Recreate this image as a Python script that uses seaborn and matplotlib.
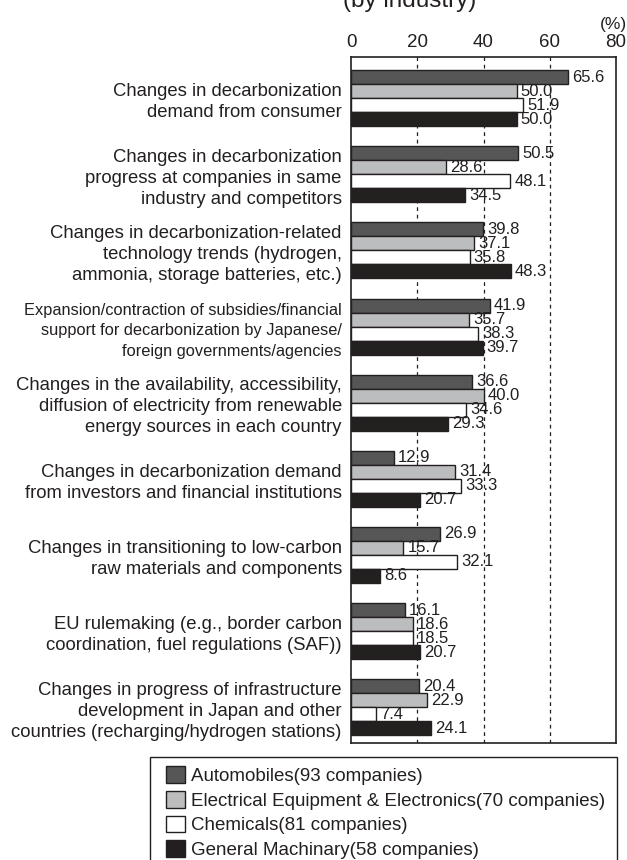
import matplotlib
matplotlib.use("Agg")
import matplotlib.pyplot as plt
from matplotlib.patches import Patch, Rectangle
import seaborn as sns
import pandas as pd

factors = [
    "Changes in decarbonization\ndemand from consumer",
    "Changes in decarbonization\nprogress at companies in same\nindustry and competitors",
    "Changes in decarbonization-related\ntechnology trends (hydrogen,\nammonia, storage batteries, etc.)",
    "Expansion/contraction of subsidies/financial\nsupport for decarbonization by Japanese/\nforeign governments/agencies",
    "Changes in the availability, accessibility,\ndiffusion of electricity from renewable\nenergy sources in each country",
    "Changes in decarbonization demand\nfrom investors and financial institutions",
    "Changes in transitioning to low-carbon\nraw materials and components",
    "EU rulemaking (e.g., border carbon\ncoordination, fuel regulations (SAF))",
    "Changes in progress of infrastructure\ndevelopment in Japan and other\ncountries (recharging/hydrogen stations)",
]
industries = [
    "Automobiles(93 companies)",
    "Electrical Equipment & Electronics(70 companies)",
    "Chemicals(81 companies)",
    "General Machinary(58 companies)",
]
automobiles = [65.6, 50.5, 39.8, 41.9, 36.6, 12.9, 26.9, 16.1, 20.4]
electrical = [50.0, 28.6, 37.1, 35.7, 40.0, 31.4, 15.7, 18.6, 22.9]
chemicals = [51.9, 48.1, 35.8, 38.3, 34.6, 33.3, 32.1, 18.5, 7.4]
machinery = [50.0, 34.5, 48.3, 39.7, 29.3, 20.7, 8.6, 20.7, 24.1]
colors = ["#565656", "#bcbdbf", "#ffffff", "#231f20"]
xticks = [0, 20, 40, 60, 80]

series = [automobiles, electrical, chemicals, machinery]
rows = []
for ind, vals in zip(industries, series):
    for f, v in zip(factors, vals):
        rows.append({"factor": f, "industry": ind, "value": v})
df = pd.DataFrame(rows)

sns.set_style("white")
plt.rcParams["font.family"] = ["Liberation Sans", "DejaVu Sans"]

fig = plt.figure(figsize=(6.27, 8.60), dpi=100)
ax = fig.add_axes([351.5 / 627, 1 - 743 / 860, 264 / 627, (743 - 57) / 860])

sns.barplot(data=df, x="value", y="factor", hue="industry", orient="h",
            order=factors, hue_order=industries, palette=colors,
            width=0.735, edgecolor="#231f20", linewidth=1.0, legend=False,
            ax=ax, errorbar=None)

ax.set_xlim(0, 80)
ax.set_ylim(8.47, -0.54)
ax.set_xlabel("")
ax.set_ylabel("")
ax.xaxis.tick_top()
ax.set_xticks(xticks)
ax.set_xticklabels([str(t) for t in xticks], fontsize=13.5)
ax.tick_params(axis="x", length=0, pad=4)
ax.tick_params(axis="y", length=0, pad=7, labelsize=13.3)
for i, lab in enumerate(ax.get_yticklabels()):
    lab.set_linespacing(1.32)
    lab.set_color("#231f20")
    if i == 3:
        lab.set_fontsize(11.8)
        lab.set_linespacing(1.45)
for lab in ax.get_xticklabels():
    lab.set_color("#231f20")
for v in [20, 40, 60]:
    ax.axvline(v, color="#231f20", linestyle=(0, (3, 3)), linewidth=0.9, zorder=0)
for s in ax.spines.values():
    s.set_visible(True)
    s.set_color("#231f20")
    s.set_linewidth(1.2)

for cont in ax.containers:
    ax.bar_label(cont, fmt="%.1f", padding=3, fontsize=12, color="#231f20")

fig.text(613 / 627, 1 - 25 / 860, "(%)", ha="center", va="center", fontsize=12.5,
         color="#231f20")
fig.text(410 / 627, 1 - 7 / 860, "(by industry)", ha="center", va="baseline",
         fontsize=17.5, color="#231f20")

# legend box (clipped at bottom as in the reference)
fig.patches.append(Rectangle((150 / 627, -0.05), (617 - 150) / 627, 1 - 757 / 860 + 0.05,
                             transform=fig.transFigure, fill=False,
                             edgecolor="#231f20", linewidth=1.0))
handles = [Patch(facecolor=c, edgecolor="#231f20", linewidth=1.0) for c in colors]
leg = fig.legend(handles, industries, loc="upper left",
                 bbox_to_anchor=(166 / 627, 1 - 766 / 860), frameon=False,
                 fontsize=13.5, handlelength=1.0, handleheight=1.0,
                 handletextpad=0.32, labelspacing=0.32, borderpad=0, borderaxespad=0)
for t in leg.get_texts():
    t.set_color("#231f20")

fig.savefig("out.png", dpi=100)
